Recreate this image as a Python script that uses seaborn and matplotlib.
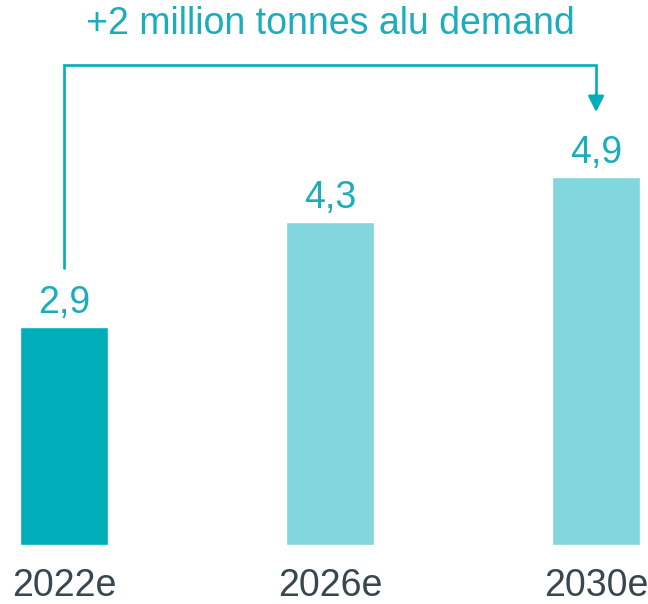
import numpy as np
import pandas as pd
import matplotlib
matplotlib.use('Agg')
import matplotlib.pyplot as plt
import seaborn as sns

years = ['2022e', '2026e', '2030e']
demand = [2.9, 4.3, 4.9]
labels = ['2,9', '4,3', '4,9']
headline = '+2 million tonnes alu demand'

dark = '#00AEBA'
light = '#82D6DD'
teal_txt = '#1BAEBA'
grey_txt = '#37474F'

sns.set_theme(style='white')
plt.rcParams['font.family'] = ['Liberation Sans', 'DejaVu Sans']

df = pd.DataFrame({'year': years, 'demand': demand})

fig = plt.figure(figsize=(6.48, 6.04), dpi=100)
ax = fig.add_axes([0, 0, 1, 1])
sns.barplot(data=df, x='year', y='demand', hue='year', saturation=1,
            palette=[dark, light, light], width=0.33, legend=False, ax=ax)
ax.set_xlim(-0.2406, 2.195)
ax.set_ylim(-0.785, 7.252)
ax.axis('off')

# value labels above bars
for i, (v, lab) in enumerate(zip(demand, labels)):
    ax.annotate(lab, (i, v), xytext=(0, 10), textcoords='offset points',
                ha='center', va='baseline', fontsize=27, color=teal_txt)

# category labels under bars
for i, y in enumerate(years):
    ax.text(i, -0.55, y, ha='center', va='center', fontsize=27, color=grey_txt)

# bracket arrow from first to last bar
top = 6.39
ax.plot([0, 0, 2, 2], [demand[0] + 0.79, top, top, demand[2] + 1.05],
        color=dark, lw=1.9, solid_joinstyle='miter')
ax.annotate('', xy=(2, demand[2] + 0.86), xytext=(2, demand[2] + 1.1),
            arrowprops=dict(arrowstyle='-|>,head_length=0.8,head_width=0.4',
                            color=dark, lw=1.9, shrinkA=0, shrinkB=0))
ax.text(1, 6.93, headline, ha='center', va='center', fontsize=27, color=teal_txt)

fig.savefig('out.png', dpi=100)
